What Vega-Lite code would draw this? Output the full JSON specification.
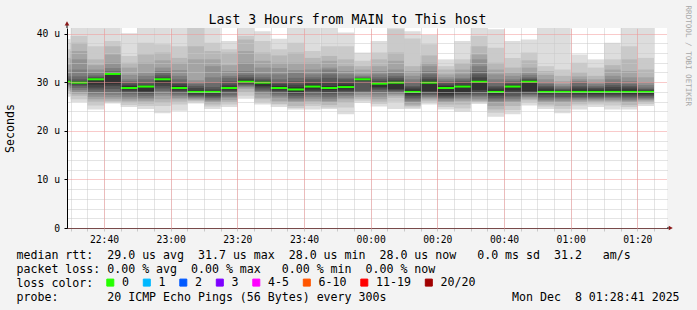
{
  "$schema": "https://vega.github.io/schema/vega-lite/v6.json",
  "width": 600,
  "height": 200,
  "autosize": {"type": "none"},
  "padding": {"left": 67, "top": 28, "right": 30, "bottom": 82},
  "background": "#f3f3f3",
  "config": {"view": {"fill": "#ffffff", "stroke": null}, "font": "DejaVu Sans Mono"},
  "title": {"text": "Last 3 Hours from MAIN to This host", "anchor": "middle", "frame": "group", "dx": -19.5, "dy": 34.5, "offset": 2, "font": "DejaVu Sans Mono", "fontSize": 13.2, "fontWeight": "normal", "color": "#000000", "baseline": "alphabetic"},
  "data": {"values": [
    {"t0":"2025-12-07T22:25:00","t1":"2025-12-07T22:30:00","med":30.1,"loss":"0","p1":27.0,"p2":27.6,"p3":28.2,"p4":28.7,"p5":29.1,"p6":29.4,"p7":29.6,"p8":29.8,"p9":29.9,"p10":30.0,"p11":30.2,"p12":30.4,"p13":30.7,"p14":31.2,"p15":31.8,"p16":32.6,"p17":33.6,"p18":35.0,"p19":36.8,"p20":38.9},
    {"t0":"2025-12-07T22:30:00","t1":"2025-12-07T22:35:00","med":29.9,"loss":"0","p1":25.9,"p2":26.5,"p3":27.2,"p4":27.6,"p5":28.0,"p6":28.4,"p7":28.8,"p8":29.2,"p9":29.5,"p10":29.8,"p11":30.0,"p12":30.2,"p13":30.6,"p14":31.2,"p15":32.6,"p16":34.7,"p17":36.4,"p18":38.1,"p19":39.5,"p20":43.0},
    {"t0":"2025-12-07T22:35:00","t1":"2025-12-07T22:40:00","med":30.6,"loss":"0","p1":24.4,"p2":25.2,"p3":26.0,"p4":26.5,"p5":27.0,"p6":27.5,"p7":28.0,"p8":28.5,"p9":28.9,"p10":29.5,"p11":30.7,"p12":30.9,"p13":31.1,"p14":31.4,"p15":32.0,"p16":32.6,"p17":33.5,"p18":34.7,"p19":37.4,"p20":43.0},
    {"t0":"2025-12-07T22:40:00","t1":"2025-12-07T22:45:00","med":31.7,"loss":"0","p1":25.6,"p2":25.9,"p3":26.1,"p4":26.5,"p5":26.9,"p6":27.4,"p7":27.9,"p8":28.6,"p9":29.2,"p10":29.6,"p11":31.8,"p12":31.9,"p13":32.0,"p14":32.3,"p15":32.9,"p16":34.0,"p17":35.7,"p18":37.4,"p19":38.5,"p20":43.0},
    {"t0":"2025-12-07T22:45:00","t1":"2025-12-07T22:50:00","med":28.8,"loss":"0","p1":24.9,"p2":25.3,"p3":25.8,"p4":26.2,"p5":26.6,"p6":27.0,"p7":27.5,"p8":27.8,"p9":28.2,"p10":28.5,"p11":29.2,"p12":29.5,"p13":29.9,"p14":30.2,"p15":30.6,"p16":31.5,"p17":33.0,"p18":34.0,"p19":35.4,"p20":40.05},
    {"t0":"2025-12-07T22:50:00","t1":"2025-12-07T22:55:00","med":29.1,"loss":"0","p1":24.5,"p2":25.1,"p3":25.6,"p4":26.1,"p5":26.5,"p6":26.8,"p7":27.2,"p8":27.6,"p9":27.9,"p10":28.2,"p11":29.2,"p12":29.5,"p13":29.9,"p14":30.6,"p15":31.3,"p16":32.0,"p17":34.0,"p18":35.7,"p19":38.1,"p20":42.5},
    {"t0":"2025-12-07T22:55:00","t1":"2025-12-07T23:00:00","med":30.6,"loss":"0","p1":23.6,"p2":25.1,"p3":25.8,"p4":26.5,"p5":27.2,"p6":27.6,"p7":28.2,"p8":28.7,"p9":29.2,"p10":29.8,"p11":30.7,"p12":31.0,"p13":31.4,"p14":31.9,"p15":32.3,"p16":33.0,"p17":34.5,"p18":36.1,"p19":37.8,"p20":43.0},
    {"t0":"2025-12-07T23:00:00","t1":"2025-12-07T23:05:00","med":28.8,"loss":"0","p1":24.1,"p2":25.4,"p3":26.0,"p4":26.5,"p5":26.8,"p6":27.2,"p7":27.5,"p8":27.8,"p9":28.2,"p10":28.5,"p11":29.2,"p12":29.6,"p13":30.0,"p14":30.6,"p15":31.3,"p16":32.5,"p17":34.0,"p18":35.0,"p19":37.4,"p20":42.5},
    {"t0":"2025-12-07T23:05:00","t1":"2025-12-07T23:10:00","med":28.0,"loss":"0","p1":25.6,"p2":26.0,"p3":26.2,"p4":26.4,"p5":26.6,"p6":26.8,"p7":27.0,"p8":27.2,"p9":27.4,"p10":27.7,"p11":28.3,"p12":28.8,"p13":29.2,"p14":29.6,"p15":30.0,"p16":30.4,"p17":34.7,"p18":37.4,"p19":42.0,"p20":44.0},
    {"t0":"2025-12-07T23:10:00","t1":"2025-12-07T23:15:00","med":28.0,"loss":"0","p1":24.5,"p2":25.0,"p3":25.4,"p4":25.8,"p5":26.1,"p6":26.4,"p7":26.7,"p8":26.9,"p9":27.2,"p10":27.7,"p11":28.2,"p12":28.5,"p13":29.0,"p14":29.9,"p15":31.0,"p16":33.3,"p17":34.7,"p18":36.4,"p19":38.1,"p20":42.5},
    {"t0":"2025-12-07T23:15:00","t1":"2025-12-07T23:20:00","med":28.8,"loss":"0","p1":24.9,"p2":25.4,"p3":25.9,"p4":26.3,"p5":26.8,"p6":27.0,"p7":27.3,"p8":27.8,"p9":28.2,"p10":28.5,"p11":29.1,"p12":29.5,"p13":30.2,"p14":30.9,"p15":31.3,"p16":32.3,"p17":33.5,"p18":36.1,"p19":36.8,"p20":38.5},
    {"t0":"2025-12-07T23:20:00","t1":"2025-12-07T23:25:00","med":30.1,"loss":"0","p1":26.6,"p2":27.2,"p3":28.0,"p4":28.6,"p5":28.9,"p6":29.1,"p7":29.3,"p8":29.5,"p9":29.7,"p10":29.9,"p11":30.4,"p12":30.7,"p13":31.0,"p14":31.5,"p15":32.3,"p16":34.0,"p17":36.4,"p18":38.8,"p19":39.5,"p20":44.0},
    {"t0":"2025-12-07T23:25:00","t1":"2025-12-07T23:30:00","med":29.9,"loss":"0","p1":25.4,"p2":25.8,"p3":26.5,"p4":26.8,"p5":27.5,"p6":27.8,"p7":28.2,"p8":28.5,"p9":28.9,"p10":29.2,"p11":30.0,"p12":30.3,"p13":30.6,"p14":31.0,"p15":31.6,"p16":33.0,"p17":34.4,"p18":36.1,"p19":38.5,"p20":40.5},
    {"t0":"2025-12-07T23:30:00","t1":"2025-12-07T23:35:00","med":28.8,"loss":"0","p1":24.9,"p2":25.4,"p3":25.6,"p4":26.1,"p5":26.8,"p6":27.1,"p7":27.5,"p8":27.8,"p9":28.2,"p10":28.5,"p11":29.2,"p12":29.6,"p13":30.0,"p14":30.6,"p15":31.6,"p16":32.9,"p17":34.0,"p18":35.5,"p19":36.8,"p20":38.95},
    {"t0":"2025-12-07T23:35:00","t1":"2025-12-07T23:40:00","med":28.5,"loss":"0","p1":24.4,"p2":24.7,"p3":25.1,"p4":25.8,"p5":26.1,"p6":26.5,"p7":26.8,"p8":27.2,"p9":27.6,"p10":28.0,"p11":29.0,"p12":29.5,"p13":30.2,"p14":30.9,"p15":32.0,"p16":32.5,"p17":34.0,"p18":36.1,"p19":38.1,"p20":43.0},
    {"t0":"2025-12-07T23:40:00","t1":"2025-12-07T23:45:00","med":29.1,"loss":"0","p1":24.4,"p2":25.1,"p3":25.6,"p4":26.1,"p5":26.6,"p6":27.0,"p7":27.4,"p8":27.8,"p9":28.2,"p10":28.5,"p11":29.5,"p12":29.9,"p13":30.6,"p14":31.0,"p15":31.6,"p16":32.6,"p17":34.0,"p18":35.0,"p19":36.4,"p20":42.5},
    {"t0":"2025-12-07T23:45:00","t1":"2025-12-07T23:50:00","med":28.8,"loss":"0","p1":24.5,"p2":24.8,"p3":25.3,"p4":25.8,"p5":26.1,"p6":26.6,"p7":27.0,"p8":27.5,"p9":28.0,"p10":28.4,"p11":29.2,"p12":29.9,"p13":30.9,"p14":31.6,"p15":32.6,"p16":33.0,"p17":34.4,"p18":35.4,"p19":37.4,"p20":42.5},
    {"t0":"2025-12-07T23:50:00","t1":"2025-12-07T23:55:00","med":29.0,"loss":"0","p1":23.4,"p2":24.8,"p3":25.8,"p4":26.5,"p5":26.8,"p6":27.2,"p7":27.5,"p8":27.8,"p9":28.2,"p10":28.5,"p11":29.5,"p12":30.0,"p13":30.6,"p14":30.9,"p15":31.6,"p16":32.3,"p17":33.3,"p18":34.7,"p19":37.4,"p20":40.2},
    {"t0":"2025-12-07T23:55:00","t1":"2025-12-08T00:00:00","med":30.6,"loss":"0","p1":25.8,"p2":26.2,"p3":26.6,"p4":27.0,"p5":27.4,"p6":27.8,"p7":28.0,"p8":28.2,"p9":30.2,"p10":30.4,"p11":30.7,"p12":30.8,"p13":30.9,"p14":31.0,"p15":31.3,"p16":31.6,"p17":32.6,"p18":33.3,"p19":34.4,"p20":36.1},
    {"t0":"2025-12-08T00:00:00","t1":"2025-12-08T00:05:00","med":29.7,"loss":"0","p1":25.0,"p2":25.5,"p3":26.0,"p4":26.5,"p5":27.0,"p6":27.5,"p7":28.0,"p8":28.4,"p9":28.7,"p10":29.0,"p11":29.9,"p12":30.2,"p13":30.6,"p14":31.0,"p15":31.6,"p16":32.3,"p17":33.3,"p18":34.7,"p19":36.1,"p20":38.5},
    {"t0":"2025-12-08T00:05:00","t1":"2025-12-08T00:10:00","med":29.9,"loss":"0","p1":24.5,"p2":26.0,"p3":26.8,"p4":27.2,"p5":27.5,"p6":27.7,"p7":27.9,"p8":28.2,"p9":28.4,"p10":28.6,"p11":30.1,"p12":30.5,"p13":30.9,"p14":31.3,"p15":31.9,"p16":32.6,"p17":34.4,"p18":36.1,"p19":40.9,"p20":43.0},
    {"t0":"2025-12-08T00:10:00","t1":"2025-12-08T00:15:00","med":28.0,"loss":"0","p1":24.5,"p2":24.8,"p3":25.1,"p4":25.4,"p5":25.8,"p6":26.1,"p7":26.5,"p8":26.8,"p9":27.2,"p10":27.5,"p11":28.5,"p12":28.9,"p13":29.2,"p14":29.9,"p15":30.6,"p16":31.3,"p17":32.3,"p18":33.3,"p19":39.0,"p20":40.5},
    {"t0":"2025-12-08T00:15:00","t1":"2025-12-08T00:20:00","med":29.9,"loss":"0","p1":25.4,"p2":25.8,"p3":26.2,"p4":26.5,"p5":26.8,"p6":27.0,"p7":27.3,"p8":27.5,"p9":27.9,"p10":28.2,"p11":30.2,"p12":30.6,"p13":31.0,"p14":31.6,"p15":32.3,"p16":33.3,"p17":34.0,"p18":35.5,"p19":37.8,"p20":39.7},
    {"t0":"2025-12-08T00:20:00","t1":"2025-12-08T00:25:00","med":28.8,"loss":"0","p1":24.4,"p2":24.9,"p3":25.4,"p4":25.8,"p5":26.1,"p6":26.5,"p7":26.7,"p8":26.9,"p9":27.2,"p10":27.5,"p11":29.2,"p12":29.5,"p13":29.9,"p14":30.2,"p15":30.6,"p16":31.0,"p17":31.6,"p18":32.6,"p19":33.3,"p20":34.7},
    {"t0":"2025-12-08T00:25:00","t1":"2025-12-08T00:30:00","med":29.1,"loss":"0","p1":23.9,"p2":24.6,"p3":25.4,"p4":26.1,"p5":26.5,"p6":26.8,"p7":27.1,"p8":27.4,"p9":27.6,"p10":28.0,"p11":29.4,"p12":29.9,"p13":30.2,"p14":30.6,"p15":30.9,"p16":31.6,"p17":32.6,"p18":33.9,"p19":34.7,"p20":38.5},
    {"t0":"2025-12-08T00:30:00","t1":"2025-12-08T00:35:00","med":30.1,"loss":"0","p1":25.5,"p2":25.9,"p3":26.0,"p4":26.2,"p5":26.5,"p6":26.9,"p7":27.2,"p8":27.5,"p9":28.0,"p10":28.4,"p11":30.4,"p12":31.0,"p13":31.6,"p14":32.3,"p15":33.3,"p16":34.7,"p17":35.7,"p18":37.4,"p19":39.5,"p20":43.0},
    {"t0":"2025-12-08T00:35:00","t1":"2025-12-08T00:40:00","med":28.0,"loss":"0","p1":22.9,"p2":23.7,"p3":24.4,"p4":25.1,"p5":25.8,"p6":26.1,"p7":26.5,"p8":26.8,"p9":27.2,"p10":27.5,"p11":28.5,"p12":28.9,"p13":29.2,"p14":29.9,"p15":30.6,"p16":31.6,"p17":32.6,"p18":34.0,"p19":37.1,"p20":40.9},
    {"t0":"2025-12-08T00:40:00","t1":"2025-12-08T00:45:00","med":29.1,"loss":"0","p1":23.4,"p2":24.3,"p3":25.1,"p4":25.8,"p5":26.1,"p6":26.5,"p7":26.9,"p8":27.2,"p9":27.8,"p10":28.3,"p11":29.3,"p12":29.6,"p13":29.9,"p14":30.2,"p15":30.6,"p16":31.3,"p17":32.0,"p18":33.0,"p19":35.0,"p20":38.5},
    {"t0":"2025-12-08T00:45:00","t1":"2025-12-08T00:50:00","med":30.1,"loss":"0","p1":25.2,"p2":25.8,"p3":26.3,"p4":26.6,"p5":26.9,"p6":27.1,"p7":27.4,"p8":27.6,"p9":27.9,"p10":28.2,"p11":30.3,"p12":30.5,"p13":30.7,"p14":31.0,"p15":31.5,"p16":32.0,"p17":33.0,"p18":34.5,"p19":36.1,"p20":38.8},
    {"t0":"2025-12-08T00:50:00","t1":"2025-12-08T00:55:00","med":28.0,"loss":"0","p1":24.5,"p2":25.0,"p3":25.4,"p4":25.8,"p5":26.1,"p6":26.4,"p7":26.7,"p8":27.0,"p9":27.4,"p10":27.7,"p11":28.5,"p12":28.9,"p13":29.2,"p14":29.6,"p15":30.0,"p16":30.6,"p17":31.5,"p18":32.3,"p19":33.3,"p20":43.0},
    {"t0":"2025-12-08T00:55:00","t1":"2025-12-08T01:00:00","med":28.0,"loss":"0","p1":23.6,"p2":24.5,"p3":25.1,"p4":25.8,"p5":26.1,"p6":26.5,"p7":26.8,"p8":27.0,"p9":27.5,"p10":27.8,"p11":28.2,"p12":28.4,"p13":28.6,"p14":28.9,"p15":29.2,"p16":29.6,"p17":30.2,"p18":31.3,"p19":32.6,"p20":43.0},
    {"t0":"2025-12-08T01:00:00","t1":"2025-12-08T01:05:00","med":28.0,"loss":"0","p1":24.4,"p2":25.2,"p3":25.6,"p4":26.0,"p5":26.3,"p6":26.6,"p7":26.8,"p8":27.0,"p9":27.4,"p10":27.7,"p11":28.5,"p12":28.9,"p13":29.2,"p14":29.9,"p15":30.2,"p16":30.6,"p17":31.2,"p18":32.0,"p19":34.0,"p20":35.7},
    {"t0":"2025-12-08T01:05:00","t1":"2025-12-08T01:10:00","med":28.0,"loss":"0","p1":24.9,"p2":25.4,"p3":25.8,"p4":26.1,"p5":26.4,"p6":26.6,"p7":26.8,"p8":27.0,"p9":27.3,"p10":27.6,"p11":28.4,"p12":28.7,"p13":28.9,"p14":29.2,"p15":29.6,"p16":30.0,"p17":30.6,"p18":31.3,"p19":33.0,"p20":34.7},
    {"t0":"2025-12-08T01:10:00","t1":"2025-12-08T01:15:00","med":28.0,"loss":"0","p1":24.4,"p2":25.2,"p3":25.8,"p4":26.1,"p5":26.4,"p6":26.7,"p7":26.9,"p8":27.1,"p9":27.4,"p10":27.7,"p11":28.5,"p12":29.0,"p13":29.4,"p14":29.9,"p15":30.6,"p16":31.3,"p17":32.6,"p18":33.5,"p19":34.7,"p20":38.1},
    {"t0":"2025-12-08T01:15:00","t1":"2025-12-08T01:20:00","med":28.0,"loss":"0","p1":24.4,"p2":24.9,"p3":25.3,"p4":25.8,"p5":26.1,"p6":26.4,"p7":26.7,"p8":27.0,"p9":27.3,"p10":27.6,"p11":28.5,"p12":28.9,"p13":29.2,"p14":29.6,"p15":30.2,"p16":31.0,"p17":32.3,"p18":34.7,"p19":37.4,"p20":43.0},
    {"t0":"2025-12-08T01:20:00","t1":"2025-12-08T01:25:00","med":28.0,"loss":"0","p1":25.1,"p2":25.5,"p3":25.9,"p4":26.2,"p5":26.4,"p6":26.6,"p7":26.8,"p8":27.1,"p9":27.3,"p10":27.6,"p11":28.2,"p12":28.4,"p13":28.6,"p14":28.9,"p15":29.4,"p16":30.0,"p17":31.0,"p18":32.6,"p19":35.0,"p20":43.0}
  ]},
  "resolve": {"axis": {"x": "independent", "y": "independent"}},
  "layer": [
    {
      "encoding": {
        "x": {"field": "t0", "type": "temporal", "axis": null,
          "scale": {"domain": [{"year": 2025, "month": 12, "date": 7, "hours": 22, "minutes": 28, "seconds": 54}, {"year": 2025, "month": 12, "date": 8, "hours": 1, "minutes": 28, "seconds": 54}]}},
        "x2": {"field": "t1"}
      },
      "layer": [
        {"mark": {"type": "rect", "fill": "#dddddd", "clip": true}, "encoding": {"y": {"field": "p1", "type": "quantitative", "axis": null, "scale": {"domain": [0, 41.15], "nice": false, "zero": true}}, "y2": {"field": "p20"}}},
        {"mark": {"type": "rect", "fill": "#cacaca", "clip": true}, "encoding": {"y": {"field": "p2", "type": "quantitative", "axis": null}, "y2": {"field": "p19"}}},
        {"mark": {"type": "rect", "fill": "#b7b7b7", "clip": true}, "encoding": {"y": {"field": "p3", "type": "quantitative", "axis": null}, "y2": {"field": "p18"}}},
        {"mark": {"type": "rect", "fill": "#a4a4a4", "clip": true}, "encoding": {"y": {"field": "p4", "type": "quantitative", "axis": null}, "y2": {"field": "p17"}}},
        {"mark": {"type": "rect", "fill": "#919191", "clip": true}, "encoding": {"y": {"field": "p5", "type": "quantitative", "axis": null}, "y2": {"field": "p16"}}},
        {"mark": {"type": "rect", "fill": "#7e7e7e", "clip": true}, "encoding": {"y": {"field": "p6", "type": "quantitative", "axis": null}, "y2": {"field": "p15"}}},
        {"mark": {"type": "rect", "fill": "#6b6b6b", "clip": true}, "encoding": {"y": {"field": "p7", "type": "quantitative", "axis": null}, "y2": {"field": "p14"}}},
        {"mark": {"type": "rect", "fill": "#585858", "clip": true}, "encoding": {"y": {"field": "p8", "type": "quantitative", "axis": null}, "y2": {"field": "p13"}}},
        {"mark": {"type": "rect", "fill": "#454545", "clip": true}, "encoding": {"y": {"field": "p9", "type": "quantitative", "axis": null}, "y2": {"field": "p12"}}},
        {"mark": {"type": "rect", "fill": "#323232", "clip": true}, "encoding": {"y": {"field": "p10", "type": "quantitative", "axis": null}, "y2": {"field": "p11"}}}
      ]
    },
    {
      "mark": {"type": "rule", "strokeWidth": 2, "clip": true},
      "encoding": {
        "x": {"field": "t0", "type": "temporal",
          "axis": {
            "orient": "bottom",
            "tickCount": 36,
            "labelExpr": "minutes(datum.value) % 20 == 0 ? timeFormat(datum.value, '%H:%M') : ''",
            "labelOverlap": false, "labelFlush": false, "labelBound": false,
            "labelFont": "DejaVu Sans Mono", "labelFontSize": 9.7, "labelColor": "#000000", "labelPadding": 3, "labelBaseline": "top", "labelAlign": "center",
            "grid": true, "gridColor": "#c8c8c8", "gridDash": [1, 1],
            "tickColor": "#c8c8c8", "tickSize": 3,
            "domainColor": "#000000", "domainWidth": 1,
            "zindex": 1,
            "title": ["median\u00a0rtt:\u00a0\u00a029.0\u00a0us\u00a0avg\u00a0\u00a031.7\u00a0us\u00a0max\u00a0\u00a028.0\u00a0us\u00a0min\u00a0\u00a028.0\u00a0us\u00a0now\u00a0\u00a0\u00a00.0\u00a0ms\u00a0sd\u00a0\u00a031.2\u00a0\u00a0\u00a0am/s",
                      "packet\u00a0loss:\u00a00.00\u00a0%\u00a0avg\u00a0\u00a00.00\u00a0%\u00a0max\u00a0\u00a0\u00a00.00\u00a0%\u00a0min\u00a0\u00a00.00\u00a0%\u00a0now",
                      "loss\u00a0color:",
                      "probe:\u00a0\u00a0\u00a0\u00a0\u00a0\u00a0\u00a020\u00a0ICMP\u00a0Echo\u00a0Pings\u00a0(56\u00a0Bytes)\u00a0every\u00a0300s\u00a0\u00a0\u00a0\u00a0\u00a0\u00a0\u00a0\u00a0\u00a0\u00a0\u00a0\u00a0\u00a0\u00a0\u00a0\u00a0\u00a0\u00a0Mon\u00a0Dec\u00a0\u00a08\u00a001:28:41\u00a02025"],
            "titleX": -51, "titleY": 30.3, "titleAlign": "left", "titleAnchor": "start", "titleBaseline": "alphabetic",
            "titleFont": "DejaVu Sans Mono", "titleFontSize": 11.6, "titleFontWeight": "normal", "titleColor": "#000000", "titleLineHeight": 14, "titleLimit": 2000
          }},
        "x2": {"field": "t1"},
        "y": {"field": "med", "type": "quantitative",
          "axis": {
            "orient": "left",
            "values": [0, 10, 20, 30, 40],
            "labelExpr": "datum.value == 0 ? '0' : datum.value + ' u'",
            "labelOverlap": false, "labelFont": "DejaVu Sans Mono", "labelFontSize": 9.7, "labelColor": "#000000", "labelPadding": 4.5,
            "grid": true, "gridColor": "#f29595", "gridDash": [1, 1],
            "tickColor": "#000000", "tickSize": 3,
            "domainColor": "#000000", "domainWidth": 1,
            "zindex": 2,
            "title": "Seconds", "titleX": -57, "titleY": 100, "titleAngle": -90, "titleAlign": "center", "titleBaseline": "middle",
            "titleFont": "DejaVu Sans Mono", "titleFontSize": 11.6, "titleFontWeight": "normal", "titleColor": "#000000"
          }},
        "color": {"field": "loss", "type": "nominal",
          "scale": {"domain": ["0", "1", "2", "3", "4-5", "6-10", "11-19", "20/20"], "range": ["#26ff00", "#00b8ff", "#0059ff", "#7e00ff", "#ff00ff", "#ff5500", "#ff0000", "#a10000"]},
          "legend": {"orient": "none", "legendX": 37.5, "legendY": 248.5, "direction": "horizontal", "title": null,
                     "symbolType": "square", "symbolSize": 49, "symbolStrokeWidth": 1, "symbolStrokeColor": "#000000",
                     "labelFont": "DejaVu Sans Mono", "labelFontSize": 11.6, "labelColor": "#000000", "labelOffset": 6,
                     "columnPadding": 11.5, "padding": 0, "offset": 0,
                     "encode": {"symbols": {"update": {"fill": {"scale": "color", "field": "value"}, "fillOpacity": {"value": 1}, "stroke": {"value": "#000000"}, "strokeWidth": {"value": 1}, "shape": {"value": "square"}, "opacity": {"value": 1}}}}}}
      }
    },
    {
      "mark": {"type": "rule", "strokeWidth": 1, "opacity": 0, "clip": true},
      "encoding": {
        "x": {"field": "t0", "type": "temporal",
          "axis": {"orient": "top",
            "values": [
              {"year": 2025, "month": 12, "date": 7, "hours": 22, "minutes": 40},
              {"year": 2025, "month": 12, "date": 7, "hours": 23, "minutes": 0},
              {"year": 2025, "month": 12, "date": 7, "hours": 23, "minutes": 20},
              {"year": 2025, "month": 12, "date": 7, "hours": 23, "minutes": 40},
              {"year": 2025, "month": 12, "date": 8, "hours": 0, "minutes": 0},
              {"year": 2025, "month": 12, "date": 8, "hours": 0, "minutes": 20},
              {"year": 2025, "month": 12, "date": 8, "hours": 0, "minutes": 40},
              {"year": 2025, "month": 12, "date": 8, "hours": 1, "minutes": 0},
              {"year": 2025, "month": 12, "date": 8, "hours": 1, "minutes": 20}
            ],
            "labels": false, "ticks": false, "domain": false, "title": null,
            "grid": true, "gridColor": "#f29595", "gridDash": [1, 1], "zindex": 2}},
        "x2": {"field": "t1"},
        "y": {"field": "med", "type": "quantitative",
          "axis": {"orient": "right",
            "values": [2, 4, 6, 8, 12, 14, 16, 18, 22, 24, 26, 28, 32, 34, 36, 38],
            "labels": false, "ticks": false, "domain": false,
            "grid": true, "gridColor": "#c8c8c8", "gridDash": [1, 1], "zindex": 1,
            "title": "RRDTOOL / TOBI OETIKER", "titleAngle": 90, "titleX": 20.5, "titleY": -23, "titleAlign": "left", "titleBaseline": "middle",
            "titleFont": "DejaVu Sans Mono", "titleFontSize": 7.6, "titleFontWeight": "normal", "titleColor": "#a8a8a8"}}
      }
    },
    {
      "data": {"values": [{"k": "a"}]},
      "layer": [
        {"mark": {"type": "rule", "color": "#000000", "strokeWidth": 1, "clip": false},
         "encoding": {"x": {"datum": {"year": 2025, "month": 12, "date": 7, "hours": 22, "minutes": 28, "seconds": 54}, "type": "temporal", "axis": null},
                      "y": {"datum": 41.15, "type": "quantitative", "axis": null}, "y2": {"datum": 42.1}}},
        {"mark": {"type": "rule", "color": "#000000", "strokeWidth": 1, "clip": false},
         "encoding": {"x": {"datum": {"year": 2025, "month": 12, "date": 8, "hours": 1, "minutes": 28, "seconds": 54}, "type": "temporal", "axis": null},
                      "x2": {"datum": {"year": 2025, "month": 12, "date": 8, "hours": 1, "minutes": 30, "seconds": 0}},
                      "y": {"datum": 0, "type": "quantitative", "axis": null}}},
        {"mark": {"type": "point", "shape": "triangle-up", "filled": true, "color": "#8b1a1a", "size": 22, "opacity": 1, "clip": false},
         "encoding": {"x": {"datum": {"year": 2025, "month": 12, "date": 7, "hours": 22, "minutes": 28, "seconds": 54}, "type": "temporal", "axis": null},
                      "y": {"datum": 42.1, "type": "quantitative", "axis": null}}},
        {"mark": {"type": "point", "shape": "triangle-right", "filled": true, "color": "#8b1a1a", "size": 22, "opacity": 1, "clip": false},
         "encoding": {"x": {"datum": {"year": 2025, "month": 12, "date": 8, "hours": 1, "minutes": 30, "seconds": 2}, "type": "temporal", "axis": null},
                      "y": {"datum": 0, "type": "quantitative", "axis": null}}}
      ]
    }
  ]
}
